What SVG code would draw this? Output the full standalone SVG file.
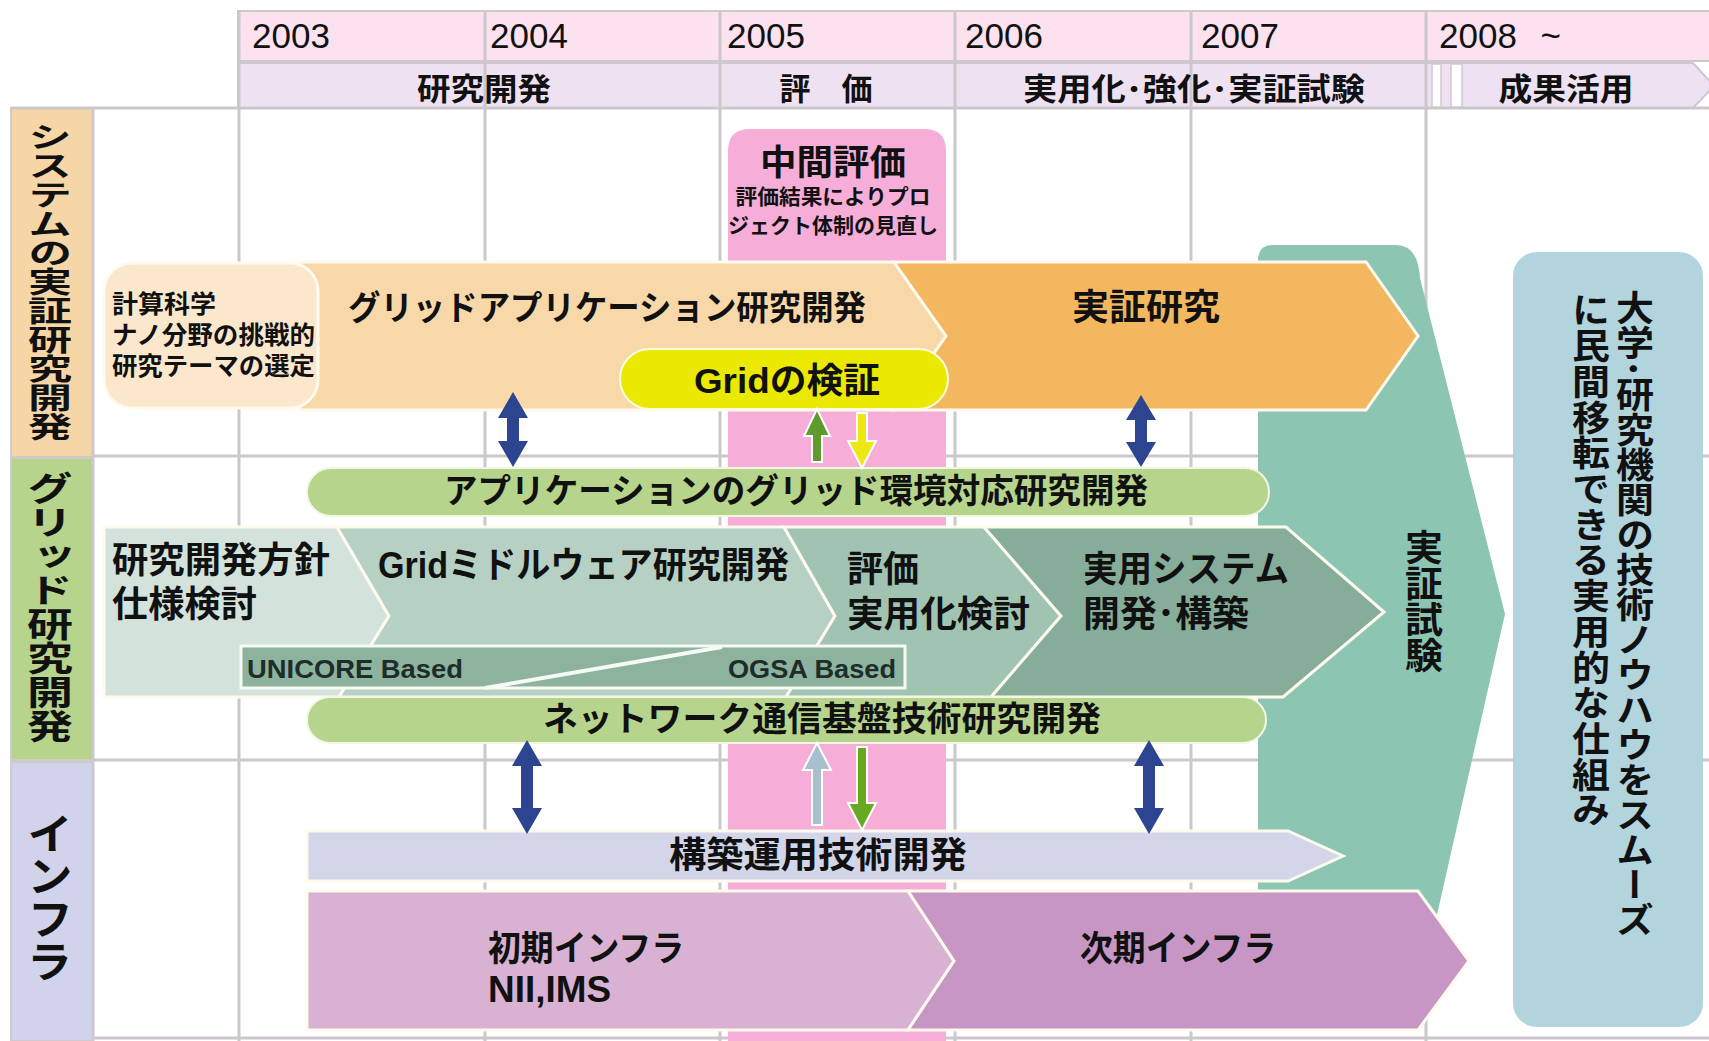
<svg xmlns="http://www.w3.org/2000/svg" width="1709" height="1041" viewBox="0 0 1709 1041">
<style>
.jp{font-family:"Noto Sans CJK JP","Noto Sans",sans-serif;font-weight:700;fill:#111}
.lat{font-family:"Liberation Sans",Arial,"Noto Sans CJK JP",sans-serif;fill:#111}
.b{font-weight:700}
.vt{writing-mode:vertical-rl}
.gl{stroke:#cbc7cc;stroke-width:3;fill:none}
.wo{stroke:#fffaee;stroke-width:3}
.ph{font-size:31px}
</style>
<rect width="1709" height="1041" fill="#fff"/>
<g id="header">
<rect x="238" y="11" width="1475" height="50" fill="#fbe2ee" stroke="#cfc8d0" stroke-width="2"/>
<polygon points="238,63 1693,63 1714,86 1693,108 238,108" fill="#eee1f1" stroke="#cfc8d0" stroke-width="2"/>
</g>
<g id="lanes">
<rect x="11" y="108" width="82" height="349" fill="#f6d6a6" stroke="#cfcacc" stroke-width="2"/>
<rect x="11" y="458" width="82" height="302" fill="#b6d48b" stroke="#cfcacc" stroke-width="2"/>
<rect x="11" y="762" width="82" height="279" fill="#d0d3e9" stroke="#cfcacc" stroke-width="2"/>
</g>
<g id="grid">
<path class="gl" d="M239,11V1041M485,11V1041M720,11V1041M955,11V1041M1191,11V1041M1426,11V1041"/>
<path class="gl" d="M11,108H1709M93,456H1709M93,760H1709M93,1038H1709M93,108V1041"/>
<rect x="1432" y="64" width="9" height="43" fill="#fff" stroke="#cfc8d0" stroke-width="1.5"/>
<rect x="1451" y="64" width="11" height="43" fill="#fff" stroke="#cfc8d0" stroke-width="1.5"/>
</g>
<g id="header-text">
<text class="lat" font-size="35" x="252" y="48">2003</text>
<text class="lat" font-size="35" x="490" y="48">2004</text>
<text class="lat" font-size="35" x="727" y="48">2005</text>
<text class="lat" font-size="35" x="965" y="48">2006</text>
<text class="lat" font-size="35" x="1201" y="48">2007</text>
<text class="lat" font-size="35" x="1439" y="48">2008 <tspan dx="14">~</tspan></text>
<text class="jp ph" x="484" y="100" text-anchor="middle" textLength="134" lengthAdjust="spacingAndGlyphs">研究開発</text>
<text class="jp ph" x="826" y="100" text-anchor="middle" textLength="93" lengthAdjust="spacingAndGlyphs">評　価</text>
<text class="jp ph" x="1194" y="100" text-anchor="middle" textLength="342" lengthAdjust="spacingAndGlyphs">実用化･強化･実証試験</text>
<text class="jp ph" x="1566" y="100" text-anchor="middle" textLength="135" lengthAdjust="spacingAndGlyphs">成果活用</text>
</g>
<g id="lane-labels">
<text class="jp vt" font-size="44" transform="translate(50,122) scale(1,0.66)" x="0" y="0">システムの実証研究開発</text>
<text class="jp vt" font-size="46" transform="translate(50,471) scale(1,0.74)" x="0" y="0">グリッド研究開発</text>
<text class="jp vt" font-size="46" transform="translate(50,812) scale(1,0.93)" x="0" y="0">インフラ</text>
</g>
<g id="chukan-hyoka">
<path d="M728,1041V151Q728,129 750,129H924Q946,129 946,151V1041Z" fill="#f6aed8"/>
<text class="jp" font-size="35" x="833" y="175" text-anchor="middle" textLength="146" lengthAdjust="spacingAndGlyphs">中間評価</text>
<text class="jp" font-size="21" x="833" y="204" text-anchor="middle" textLength="195" lengthAdjust="spacingAndGlyphs">評価結果によりプロ</text>
<text class="jp" font-size="21" x="833" y="233" text-anchor="middle" textLength="210" lengthAdjust="spacingAndGlyphs">ジェクト体制の見直し</text>
</g>
<g id="jissho-shiken">
<path d="M1273,245H1396Q1418,245 1420,278L1505,614L1411,1030H1258V260Q1258,245 1273,245Z" fill="#8cc6b3"/>
<text class="jp vt" font-size="38" transform="translate(1424,529) scale(1,0.95)" x="0" y="0">実証試験</text>
</g>
<g id="seika">
<rect x="1513" y="252" width="190" height="775" rx="24" fill="#b1d4dd"/>
<text class="jp vt" font-size="38" transform="translate(1635,290) scale(1,0.92)" x="0" y="0">大学･研究機関の技術ノウハウをスムーズ</text>
<text class="jp vt" font-size="38" transform="translate(1591,292) scale(1,0.94)" x="0" y="0">に民間移転できる実用的な仕組み</text>
</g>
<g id="grid-app">
<polygon class="wo" points="300,262 894,262 946,336 894,410 300,410" fill="#f8d8a8"/>
<text class="jp" font-size="34" x="348" y="320" textLength="518" lengthAdjust="spacingAndGlyphs">グリッドアプリケーション研究開発</text>
</g>
<g id="jissho-kenkyu">
<polygon class="wo" points="894,262 1366,262 1418,336 1366,410 894,410 946,336" fill="#f2b75f"/>
<text class="jp" font-size="36" x="1072" y="320" textLength="148" lengthAdjust="spacingAndGlyphs">実証研究</text>
</g>
<g id="keisan-kagaku">
<rect class="wo" x="104" y="263" width="214" height="145" rx="28" fill="#fbe7cc"/>
<text class="jp" font-size="25" x="112" y="313" textLength="104" lengthAdjust="spacingAndGlyphs">計算科学</text>
<text class="jp" font-size="25" x="112" y="344" textLength="203" lengthAdjust="spacingAndGlyphs">ナノ分野の挑戦的</text>
<text class="jp" font-size="25" x="112" y="375" textLength="203" lengthAdjust="spacingAndGlyphs">研究テーマの選定</text>
</g>
<g id="grid-kensho">
<rect x="620" y="349" width="328" height="60" rx="30" fill="#ebe802" stroke="#fffbe0" stroke-width="2"/>
<text class="lat b" font-size="35" x="694" y="393" textLength="186" lengthAdjust="spacingAndGlyphs">Gridの検証</text>
</g>
<g id="app-grid-taio">
<rect x="307" y="468" width="962" height="48" rx="24" fill="#b6d48b" stroke="#f2f7e4" stroke-width="2"/>
<text class="jp" font-size="34" x="444" y="503" textLength="704" lengthAdjust="spacingAndGlyphs">アプリケーションのグリッド環境対応研究開発</text>
</g>
<g id="hoshin">
<polygon class="wo" points="104,527 337,527 389,616 339,697 104,697" fill="#d3e3dc"/>
<text class="jp" font-size="36" x="112" y="573" textLength="218" lengthAdjust="spacingAndGlyphs">研究開発方針</text>
<text class="jp" font-size="36" x="112" y="617" textLength="145" lengthAdjust="spacingAndGlyphs">仕様検討</text>
</g>
<g id="middleware">
<polygon class="wo" points="337,527 784,527 835,616 786,697 339,697 389,616" fill="#b6d0c3"/>
<text class="lat b" font-size="36" x="378" y="578" textLength="411" lengthAdjust="spacingAndGlyphs">Gridミドルウェア研究開発</text>
</g>
<g id="hyoka">
<polygon class="wo" points="784,527 984,527 1061,616 991,697 786,697 835,616" fill="#a0c3b2"/>
<text class="jp" font-size="36" x="847" y="582" textLength="72" lengthAdjust="spacingAndGlyphs">評価</text>
<text class="jp" font-size="36" x="847" y="627" textLength="183" lengthAdjust="spacingAndGlyphs">実用化検討</text>
</g>
<g id="jitsuyo-system">
<polygon class="wo" points="984,527 1286,527 1384,612 1283,697 991,697 1061,616" fill="#85ad99"/>
<text class="jp" font-size="36" x="1083" y="582" textLength="206" lengthAdjust="spacingAndGlyphs">実用システム</text>
<text class="jp" font-size="36" x="1083" y="627" textLength="166" lengthAdjust="spacingAndGlyphs">開発･構築</text>
</g>
<g id="unicore-ogsa">
<rect x="241" y="646" width="664" height="42" fill="#8db39f" stroke="#f6faf4" stroke-width="3"/>
<line x1="485" y1="688" x2="722" y2="647" stroke="#f6faf4" stroke-width="4"/>
<text class="lat b" font-size="26" x="247" y="678" textLength="216" lengthAdjust="spacingAndGlyphs" fill="#1e2d29" style="fill:#1e2d29">UNICORE Based</text>
<text class="lat b" font-size="26" x="896" y="678" text-anchor="end" textLength="168" lengthAdjust="spacingAndGlyphs" style="fill:#1e2d29">OGSA Based</text>
</g>
<g id="network">
<rect x="307" y="697" width="959" height="46" rx="23" fill="#b6d48b" stroke="#f2f7e4" stroke-width="2"/>
<text class="jp" font-size="34" x="543" y="731" textLength="558" lengthAdjust="spacingAndGlyphs">ネットワーク通信基盤技術研究開発</text>
</g>
<g id="kochiku-unyo">
<polygon class="wo" points="307,831 1288,831 1343,856 1288,881 307,881" fill="#d3d5e8"/>
<text class="jp" font-size="36" x="818" y="868" text-anchor="middle" textLength="298" lengthAdjust="spacingAndGlyphs">構築運用技術開発</text>
</g>
<g id="shoki-infra">
<polygon class="wo" points="307,891 908,891 954,961 908,1030 307,1030" fill="#d8b1d3"/>
<text class="jp" font-size="35" x="488" y="961" textLength="196" lengthAdjust="spacingAndGlyphs">初期インフラ</text>
<text class="lat b" font-size="36" x="488" y="1002" textLength="123" lengthAdjust="spacingAndGlyphs">NII,IMS</text>
</g>
<g id="jiki-infra">
<polygon class="wo" points="908,891 1418,891 1469,961 1418,1030 908,1030 954,961" fill="#c796c5"/>
<text class="jp" font-size="35" x="1080" y="961" textLength="196" lengthAdjust="spacingAndGlyphs">次期インフラ</text>
</g>
<g id="connectors">
<g fill="#2d4591">
<path d="M513,392L528,418L519,418L519,441L528,441L513,467L498,441L507,441L507,418L498,418Z"/>
<path d="M1141,395L1156,420L1147,420L1147,442L1156,442L1141,467L1126,442L1135,442L1135,420L1126,420Z"/>
<path d="M527,740L542,766L533,766L533,808L542,808L527,834L512,808L521,808L521,766L512,766Z"/>
<path d="M1149,740L1164,766L1155,766L1155,808L1164,808L1149,834L1134,808L1143,808L1143,766L1134,766Z"/>
</g>
<g stroke="#fff" stroke-width="2">
<path d="M817,409L830,436L822,436L822,462L812,462L812,436L804,436Z" fill="#5e9a2c"/>
<path d="M857,413L867,413L867,441L876,441L862,468L848,441L857,441Z" fill="#ede814"/>
<path d="M817,743L831,770L822,770L822,825L812,825L812,770L803,770Z" fill="#a8c0cd"/>
<path d="M857,747L867,747L867,803L876,803L862,830L848,803L857,803Z" fill="#67a91f"/>
</g>
</g>
</svg>
